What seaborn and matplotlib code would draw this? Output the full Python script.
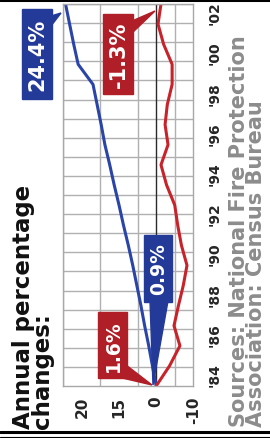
import numpy as np
import pandas as pd
import matplotlib.pyplot as plt
import seaborn as sns
from matplotlib.patches import Polygon
from matplotlib.lines import Line2D

# data (cumulative % change since 1984)
years = list(range(1984, 2004))
population = [0, 1.0, 2.0, 3.1, 4.1, 5.2, 6.3, 7.5, 8.8, 10.0,
              11.3, 12.5, 13.8, 14.8, 15.9, 17.0, 21.0, 22.2, 23.3, 24.4]
fires = [0, -3.6, -6.4, -4.8, -6.0, -7.3, -8.3, -6.8, -5.8, -5.0,
         -2.8, -1.3, -3.2, -2.4, -3.0, -4.3, -4.3, -2.0, -0.5, -1.3]
value_ticks = [20, 10, 0, -10]
value_labels = ['20', '15', '0', '-10']
year_ticks = list(range(1984, 2003, 2))
year_labels = ["'84", "'86", "'88", "'90", "'92", "'94", "'96", "'98", "'00", "'02"]

df = pd.DataFrame({'year': years, 'population': population, 'fires': fires})

sns.set_style('white')
plt.rcParams['font.family'] = ['DejaVu Sans']

BLUE = '#2a44a8'
RED = '#c8232b'
BLUE_BOX = '#233a98'
RED_BOX = '#b01e27'

W, H = 270, 439
fig = plt.figure(figsize=(W / 100, H / 100), dpi=100)
ax = fig.add_axes([63.3 / W, 1 - 387 / H, 130 / W, 382 / H])

# chart is drawn turned on its side: values run right->left, years bottom->top
sns.lineplot(data=df, x='population', y='year', orient='y', color=BLUE, lw=2.2, ax=ax)
sns.lineplot(data=df, x='fires', y='year', orient='y', color=RED, lw=2.2, ax=ax)
ax.axvline(0, color='#2a2a2a', lw=1.0, zorder=1)

ax.set_xlim(25, -10)
ax.set_ylim(1984, 2003)
ax.set_xlabel('')
ax.set_ylabel('')

# grid
ax.set_xticks(np.arange(-10, 26, 5), minor=True)
ax.set_yticks(np.linspace(1984, 2003, 21), minor=True)
ax.grid(which='minor', color='#b0b0b0', lw=1.0)
ax.grid(which='major', visible=False)
ax.set_axisbelow(True)
for s in ax.spines.values():
    s.set_color('#a8a8a8')
    s.set_linewidth(1.0)

ax.set_xticks(value_ticks)
ax.set_xticklabels(value_labels, rotation=90, fontsize=11, fontweight='bold')
ax.yaxis.tick_right()
ax.set_yticks(year_ticks)
ax.set_yticklabels(year_labels, rotation=90, fontsize=10, fontweight='bold', va='bottom')
ax.tick_params(which='both', length=0)
ax.tick_params(axis='x', pad=7)
ax.tick_params(axis='y', pad=10)


def px(x, y):
    return (x / W, 1 - y / H)


def callout(box, tip, text, color, size, center):
    x0, y0, x1, y1 = box
    fig.add_artist(Polygon([px(x0, y0), px(x1, y0), px(x1, y1), px(x0, y1)],
                           closed=True, transform=fig.transFigure, color=color, zorder=5))
    fig.add_artist(Polygon([px(*p) for p in tip], closed=True,
                           transform=fig.transFigure, color=color, zorder=5))
    fig.text(*px(*center), text, rotation=90, color='white', fontsize=size,
             fontweight='bold', ha='center', va='center', zorder=6)


callout((22, 10, 52, 100), [(51, 17), (61, 14), (51, 27)], '24.4%', BLUE_BOX, 15, (37.5, 55))
callout((103, 15, 133, 95), [(132, 22), (155, 12), (132, 34)], '-1.3%', RED_BOX, 15, (118.5, 55))
callout((98, 313, 127, 379), [(118, 378), (126, 366), (152, 386)], '1.6%', RED_BOX, 13.5, (113, 346))
callout((144, 236, 172, 303), [(150, 302), (168, 302), (153, 386)], '0.9%', BLUE_BOX, 13.5, (158.5, 269.5))

fig.text(*px(12, 429), 'Annual percentage\nchanges:', rotation=90, ha='left', va='bottom',
         multialignment='left', fontsize=16.5, fontweight='bold', color='#111111', linespacing=0.8)
fig.text(*px(229, 427), 'Sources: National Fire Protection\nAssociation: Census Bureau', rotation=90,
         ha='left', va='bottom', multialignment='left', fontsize=15, fontweight='bold',
         color='#8c8c8c', linespacing=0.82)

# frame rules
fig.add_artist(Line2D([0, 1], [1 - 1 / H] * 2, color='black', lw=2.2, transform=fig.transFigure))
fig.add_artist(Line2D([0, 1], [1 - 433 / H] * 2, color='black', lw=2.2, transform=fig.transFigure))
fig.add_artist(Line2D([0, 1], [1 - 437.5 / H] * 2, color='black', lw=0.8, transform=fig.transFigure))

fig.savefig('out.png', dpi=100)
